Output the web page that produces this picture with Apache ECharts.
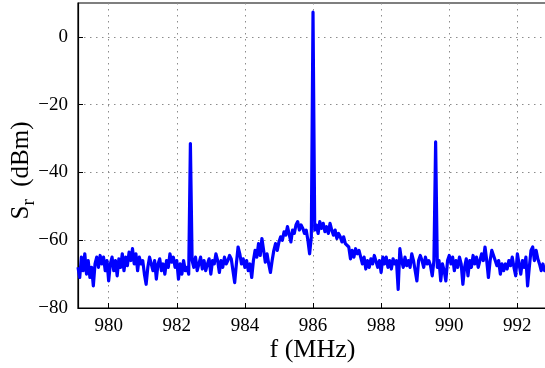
<!DOCTYPE html>
<html>
<head>
<meta charset="utf-8">
<script src="https://cdn.jsdelivr.net/npm/echarts@6/dist/echarts.min.js"></script>
<style>html,body{margin:0;padding:0;background:#fff}#c{width:545px;height:368px}</style>
</head>
<body>
<div id="c"></div>
<script>
const xTicks = [980, 982, 984, 986, 988, 990, 992];
const yTicks = [-80, -60, -40, -20, 0];
const freqMHz = [
979.10,979.15,979.20,979.25,979.30,979.35,979.40,979.45,979.50,979.55,979.60,979.65,979.70,979.75,979.80,979.85,979.90,979.95,980.00,980.05,
980.10,980.15,980.20,980.25,980.30,980.35,980.40,980.45,980.50,980.55,980.60,980.65,980.70,980.75,980.80,980.85,980.90,980.95,981.00,981.05,
981.10,981.15,981.20,981.25,981.30,981.35,981.40,981.45,981.50,981.55,981.60,981.65,981.70,981.75,981.80,981.85,981.90,981.95,982.00,982.05,
982.10,982.15,982.20,982.25,982.30,982.35,982.40,982.45,982.50,982.55,982.60,982.65,982.70,982.75,982.80,982.85,982.90,982.95,983.00,983.05,
983.10,983.15,983.20,983.25,983.30,983.35,983.40,983.45,983.50,983.55,983.60,983.65,983.70,983.75,983.80,983.85,983.90,983.95,984.00,984.05,
984.10,984.15,984.20,984.25,984.30,984.35,984.40,984.45,984.50,984.55,984.60,984.65,984.70,984.75,984.80,984.85,984.90,984.95,985.00,985.05,
985.10,985.15,985.20,985.25,985.30,985.35,985.40,985.45,985.50,985.55,985.60,985.65,985.70,985.75,985.80,985.85,985.90,985.95,986.00,986.05,
986.10,986.15,986.20,986.25,986.30,986.35,986.40,986.45,986.50,986.55,986.60,986.65,986.70,986.75,986.80,986.85,986.90,986.95,987.00,987.05,
987.10,987.15,987.20,987.25,987.30,987.35,987.40,987.45,987.50,987.55,987.60,987.65,987.70,987.75,987.80,987.85,987.90,987.95,988.00,988.05,
988.10,988.15,988.20,988.25,988.30,988.35,988.40,988.45,988.50,988.55,988.60,988.65,988.70,988.75,988.80,988.85,988.90,988.95,989.00,989.05,
989.10,989.15,989.20,989.25,989.30,989.35,989.40,989.45,989.50,989.55,989.60,989.65,989.70,989.75,989.80,989.85,989.90,989.95,990.00,990.05,
990.10,990.15,990.20,990.25,990.30,990.35,990.40,990.45,990.50,990.55,990.60,990.65,990.70,990.75,990.80,990.85,990.90,990.95,991.00,991.05,
991.10,991.15,991.20,991.25,991.30,991.35,991.40,991.45,991.50,991.55,991.60,991.65,991.70,991.75,991.80,991.85,991.90,991.95,992.00,992.05,
992.10,992.15,992.20,992.25,992.30,992.35,992.40,992.45,992.50,992.55,992.60,992.65,992.70,992.75,992.80,992.85
];
const powerDBm = [
-68,-71,-65,-69,-64,-70,-66,-71,-68,-73.5,-67,-65,-68,-64.5,-67,-65,-69,-66,-72,-67,
-65,-69,-66,-70.5,-65.5,-68,-64,-69,-65,-67.5,-63.5,-66,-62.5,-67,-64,-69,-65,-67,-66,-70,
-73,-68,-65,-67,-69,-66,-71.5,-67,-65.5,-69,-67,-70,-66,-68,-64,-66.5,-65,-68,-66,-71.5,
-67,-70,-66,-69,-68,-70,-31.5,-66,-68,-65,-69,-67,-65,-68.5,-66,-69,-67,-65.5,-70,-66,
-67,-64,-66,-69.5,-66,-68,-65,-67,-66,-64.5,-65.5,-69,-72.5,-67,-62,-64,-67,-65.5,-68,-66,
-69,-67,-71,-66,-63,-65,-61,-64.5,-59.5,-63,-66.5,-64,-67,-69.5,-66,-63,-61,-63,-60.5,-59,
-60,-57.5,-58.5,-56,-55.5,-60.5,-57,-58,-55.5,-54.5,-57,-55.5,-56.5,-58,-57,-60,-64,-59,7.3,-57,
-55.5,-58,-54.5,-56.5,-55,-57.5,-56,-58,-55,-57,-58.5,-57,-59.5,-58,-59,-60.5,-59,-61,-60.5,-62,
-65.5,-63,-65,-62.5,-64,-63,-63,-67,-65,-68.5,-66,-68,-65.5,-67,-64.5,-64,-68,-66,-69.5,-65,
-67,-65,-68,-66,-68.5,-65.5,-67,-66,-74.5,-62.5,-66,-68,-65,-67.5,-66,-68,-64,-66,-69,-72,
-66,-64.5,-66,-68,-65,-67,-66,-67.5,-70.5,-66,-31,-68,-66,-72,-67,-69,-72,-66,-64.5,-67,
-65,-69,-66,-68,-65,-67,-73,-68,-65.5,-70.5,-66,-68,-64.5,-67,-65,-68,-66,-64,-66,-62,
-66,-71,-66,-63,-62.5,-66,-67.5,-66,-70,-67,-69,-67,-68.5,-66,-67.5,-65,-68,-70.5,-64,-67,
-70,-66,-68,-65,-73.5,-68,-63,-62,-66,-63,-65.5,-67,-69,-67,-69,-68
];

const chart = echarts.init(document.getElementById('c'), null, {renderer: 'canvas'});
const serif = 'Liberation Serif, Times New Roman, serif';
const gridLine = {show: true, lineStyle: {color: '#8c8c8c', width: 1, type: [1.5, 4.5]}};
const data = freqMHz.map((f, i) => [f, powerDBm[i]]);

chart.setOption({
  animation: false,
  backgroundColor: '#fff',
  grid: {left: 78, top: 3, right: -2, bottom: 60, containLabel: false, outerBoundsMode: 'none',
    show: true, borderColor: '#000', borderWidth: 1.2, backgroundColor: 'transparent'},
  xAxis: {
    type: 'value', min: 979.1, max: 992.87,
    customValues: xTicks,
    axisLine: {show: true, onZero: false, lineStyle: {color: '#000', width: 1.2}},
    axisTick: {show: true, inside: true, length: 5, lineStyle: {color: '#000'}, customValues: xTicks},
    axisLabel: {color: '#000', fontFamily: serif, fontSize: 19, margin: 9, customValues: xTicks},
    splitLine: gridLine,
    name: 'f (MHz)', nameLocation: 'middle', nameGap: 29, nameMoveOverlap: false,
    nameTextStyle: {color: '#000', fontFamily: serif, fontSize: 26, verticalAlign: 'top'}
  },
  yAxis: {
    type: 'value', min: -80, max: 10,
    customValues: yTicks,
    axisLine: {show: true, onZero: false, lineStyle: {color: '#000', width: 1.2}},
    axisTick: {show: true, inside: true, length: 5, lineStyle: {color: '#000'}, customValues: yTicks},
    axisLabel: {color: '#000', fontFamily: serif, fontSize: 19, margin: 10, customValues: yTicks,
      formatter: v => (v < 0 ? '\u2212' + Math.abs(v) : String(v))},
    splitLine: gridLine,
    name: '{a|S}{b|r}{a|  (dBm)}', nameLocation: 'middle', nameGap: 39, nameMoveOverlap: false,
    nameTextStyle: {color: '#000', fontFamily: serif, fontSize: 25, padding: [0, 30, 0, 0],
      rich: {
        a: {fontFamily: serif, fontSize: 25, color: '#000', verticalAlign: 'middle'},
        b: {fontFamily: serif, fontSize: 19, color: '#000', verticalAlign: 'bottom', padding: [16, 0, 0, 0]}
      }}
  },
  series: [{
    type: 'line', data: data, showSymbol: false, symbol: 'none',
    lineStyle: {color: '#0000ff', width: 3.2, join: 'round'},
    clip: true
  }]
});
</script>
</body>
</html>
